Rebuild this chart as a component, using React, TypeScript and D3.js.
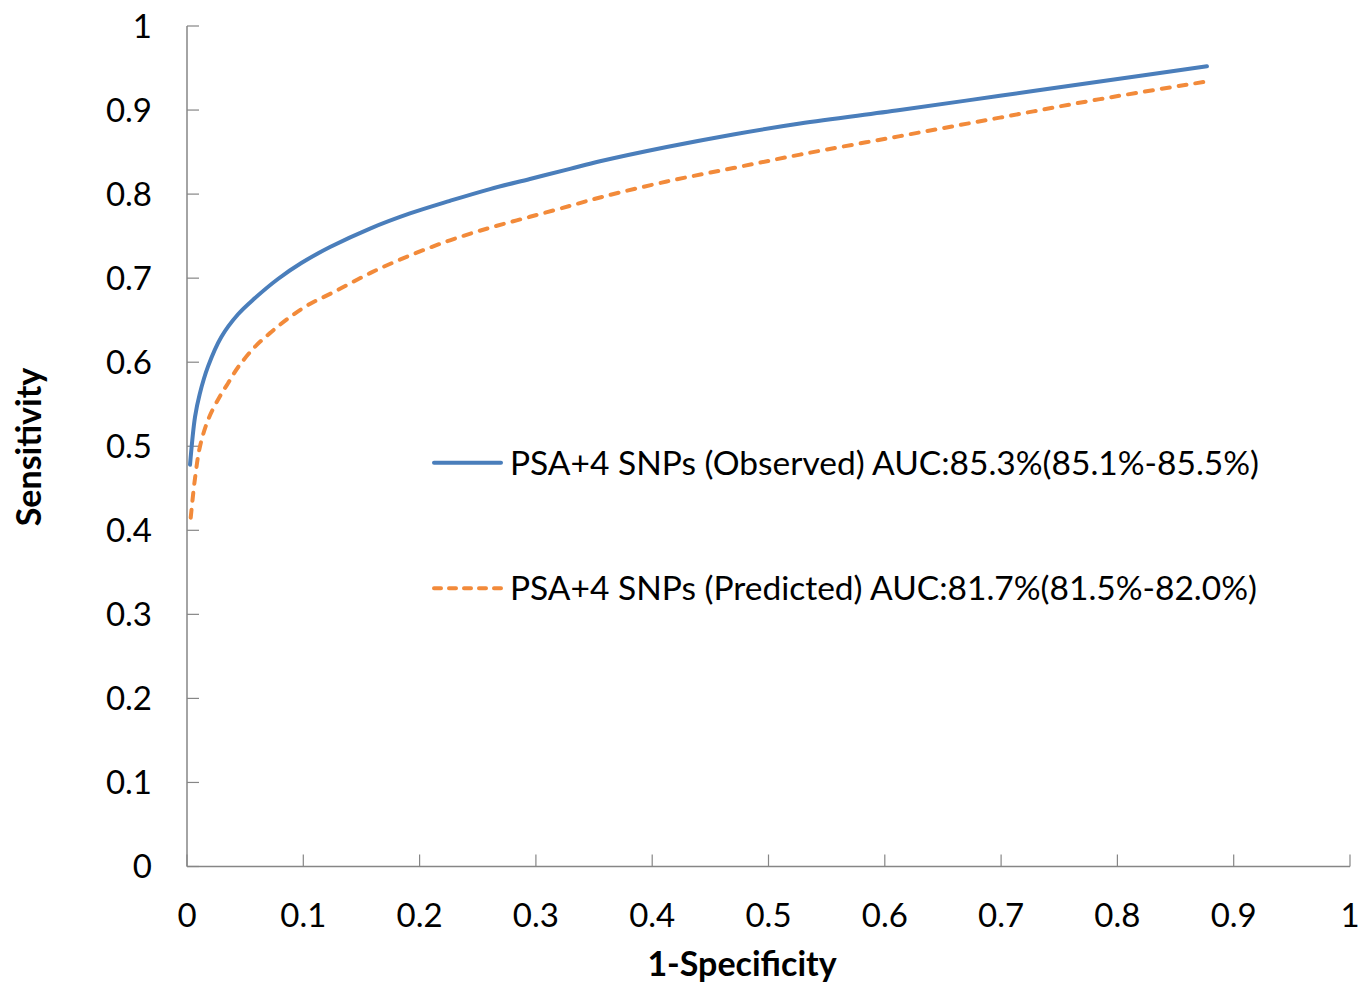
import React from "react";
import * as d3 from "d3";

const xTicks = [0, 0.1, 0.2, 0.3, 0.4, 0.5, 0.6, 0.7, 0.8, 0.9, 1];
const yTicks = [0, 0.1, 0.2, 0.3, 0.4, 0.5, 0.6, 0.7, 0.8, 0.9, 1];

const observedX = [0.0026, 0.0069, 0.0109, 0.0181, 0.0295, 0.0439, 0.0582, 0.0782, 0.0983, 0.123, 0.1574, 0.1917, 0.2261, 0.2605, 0.2949, 0.3293, 0.3551, 0.4125, 0.4697, 0.5271, 0.613, 0.699, 0.785, 0.877];
const observedY = [0.478, 0.535, 0.562, 0.595, 0.63, 0.657, 0.676, 0.699, 0.718, 0.737, 0.759, 0.777, 0.792, 0.806, 0.818, 0.83, 0.839, 0.856, 0.871, 0.884, 0.9, 0.917, 0.934, 0.952];

const predictedX = [0.0032, 0.0069, 0.0112, 0.0183, 0.0281, 0.0353, 0.0439, 0.0582, 0.0725, 0.0868, 0.104, 0.127, 0.1574, 0.1917, 0.2261, 0.2605, 0.2949, 0.3293, 0.3551, 0.4125, 0.4697, 0.5271, 0.613, 0.699, 0.785, 0.877];
const predictedY = [0.415, 0.462, 0.5, 0.532, 0.559, 0.575, 0.594, 0.618, 0.636, 0.652, 0.668, 0.684, 0.706, 0.727, 0.745, 0.76, 0.773, 0.786, 0.796, 0.815, 0.831, 0.847, 0.869, 0.891, 0.913, 0.934];

const seriesNames = [
  "PSA+4 SNPs (Observed) AUC:85.3%(85.1%-85.5%)",
  "PSA+4 SNPs (Predicted) AUC:81.7%(81.5%-82.0%)",
];
const seriesColors = ["#4A7EBB", "#F28A3A"];
const xTitle = "1-Specificity";
const yTitle = "Sensitivity";

const W = 1366;
const H = 986;
const FONT = "Lato, 'Open Sans', sans-serif";
const AXIS = "#868686";

export default function App() {
  const x = d3.scaleLinear().domain([0, 1]).range([187, 1350]);
  const y = d3.scaleLinear().domain([0, 1]).range([866.5, 26]);
  const line = d3
    .line<[number, number]>()
    .x((d) => x(d[0]))
    .y((d) => y(d[1]))
    .curve(d3.curveCatmullRom.alpha(0.5));

  const obs: [number, number][] = observedX.map((v, i) => [v, observedY[i]]);
  const pred: [number, number][] = predictedX.map((v, i) => [v, predictedY[i]]);

  const legendY = [462.7, 588.3];

  return (
    <svg
      width={W}
      height={H}
      style={{ position: "absolute", left: 0, top: 0, background: "#fff" }}
      fontFamily={FONT}
    >
      <rect x={0} y={0} width={W} height={H} fill="#fff" />
      {/* axes */}
      <line x1={x(0)} x2={x(0)} y1={y(1)} y2={y(0)} stroke={AXIS} strokeWidth={1.5} />
      <line x1={x(0)} x2={x(1)} y1={y(0)} y2={y(0)} stroke={AXIS} strokeWidth={1.5} />
      {yTicks.map((t) => (
        <g key={"y" + t}>
          <line x1={x(0)} x2={x(0) + 12} y1={y(t)} y2={y(t)} stroke={AXIS} strokeWidth={1.2} />
          <text x={152} y={y(t)} dy="0.36em" textAnchor="end" fontSize={33} fill="#000">
            {String(t)}
          </text>
        </g>
      ))}
      {xTicks.map((t) => (
        <g key={"x" + t}>
          <line x1={x(t)} x2={x(t)} y1={y(0)} y2={y(0) - 12} stroke={AXIS} strokeWidth={1.2} />
          <text x={x(t)} y={927} textAnchor="middle" fontSize={33} fill="#000">
            {String(t)}
          </text>
        </g>
      ))}
      <text x={742} y={976} textAnchor="middle" fontSize={34} fontWeight="bold" fill="#000">
        {xTitle}
      </text>
      <text
        transform={`translate(41,447) rotate(-90)`}
        textAnchor="middle"
        fontSize={34}
        fontWeight="bold"
        fill="#000"
      >
        {yTitle}
      </text>
      {/* series */}
      <path d={line(obs) || ""} fill="none" stroke={seriesColors[0]} strokeWidth={4} strokeLinecap="round" />
      <path
        d={line(pred) || ""}
        fill="none"
        stroke={seriesColors[1]}
        strokeWidth={4}
        strokeLinecap="round"
        strokeDasharray="8 9"
      />
      {/* legend */}
      {seriesNames.map((name, i) => (
        <g key={name}>
          <line
            x1={434}
            x2={501}
            y1={legendY[i]}
            y2={legendY[i]}
            stroke={seriesColors[i]}
            strokeWidth={4}
            strokeLinecap="round"
            strokeDasharray={i === 1 ? "7 8" : undefined}
          />
          <text x={510} y={legendY[i]} dy="0.36em" fontSize={33.5} fill="#000">
            {name}
          </text>
        </g>
      ))}
    </svg>
  );
}
